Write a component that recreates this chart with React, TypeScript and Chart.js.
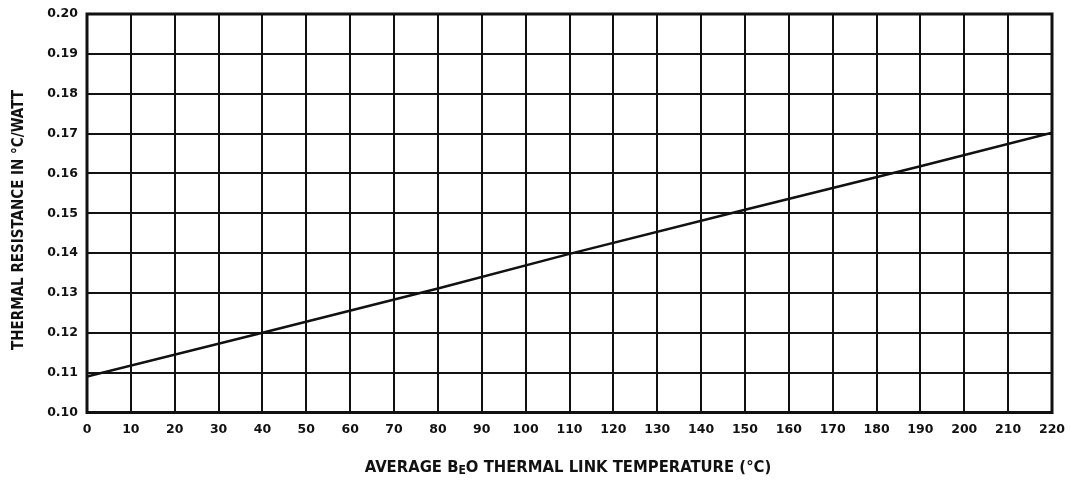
import React, { useEffect, useRef } from "react";
import { Chart, registerables } from "chart.js";

Chart.register(...registerables);

const temperatures = [0, 40, 80, 110, 150, 190, 220];
const resistance = [0.109, 0.1200, 0.1311, 0.1398, 0.1509, 0.1618, 0.1702];

const xTitleParts = ["AVERAGE B", "E", "O THERMAL LINK TEMPERATURE (°C)"];
const yTitle = "THERMAL RESISTANCE IN °C/WATT";

const tickFont = { family: "DejaVu Sans", size: 12.5, weight: "bold" as const };
const titleFamily = "'DejaVu Sans Condensed', 'DejaVu Sans'";

const framePlugin = {
  id: "frame",
  afterDraw(chart: any) {
    const { ctx, chartArea } = chart;
    ctx.save();
    ctx.strokeStyle = "#111";
    ctx.lineWidth = 3;
    ctx.strokeRect(chartArea.left, chartArea.top, chartArea.right - chartArea.left, chartArea.bottom - chartArea.top);

    // y title
    ctx.fillStyle = "#111";
    ctx.font = `bold 15px ${titleFamily}`;
    ctx.textAlign = "center";
    ctx.textBaseline = "middle";
    ctx.translate(19, 220);
    ctx.rotate(-Math.PI / 2);
    ctx.fillText(yTitle, 0, 0);
    ctx.restore();

    // x title with subscript E
    ctx.save();
    ctx.fillStyle = "#111";
    ctx.textBaseline = "alphabetic";
    ctx.textAlign = "left";
    const big = `bold 16.5px ${titleFamily}`;
    const small = `bold 12px ${titleFamily}`;
    ctx.font = big;
    const w0 = ctx.measureText(xTitleParts[0]).width;
    const w2 = ctx.measureText(xTitleParts[2]).width;
    ctx.font = small;
    const w1 = ctx.measureText(xTitleParts[1]).width;
    const total = w0 + w1 + w2;
    let x = 568 - total / 2;
    const y = 472;
    ctx.font = big;
    ctx.fillText(xTitleParts[0], x, y);
    x += w0;
    ctx.font = small;
    ctx.fillText(xTitleParts[1], x, y + 2);
    x += w1;
    ctx.font = big;
    ctx.fillText(xTitleParts[2], x, y);
    ctx.restore();
  },
};

export default function App() {
  const ref = useRef<HTMLCanvasElement>(null);
  useEffect(() => {
    document.body.style.margin = "0";
    const chart = new Chart(ref.current!, {
      type: "line",
      data: {
        datasets: [
          {
            data: temperatures.map((t, i) => ({ x: t, y: resistance[i] })),
            borderColor: "#111",
            borderWidth: 2.5,
            pointRadius: 0,
            tension: 0,
            fill: false,
          },
        ],
      },
      options: {
        animation: false,
        responsive: false,
        maintainAspectRatio: false,
        layout: { padding: { left: 0, right: 18, top: 14, bottom: 0 } },
        plugins: { legend: { display: false }, tooltip: { enabled: false } },
        scales: {
          x: {
            type: "linear",
            min: 0,
            max: 220,
            ticks: { stepSize: 10, color: "#111", font: tickFont, padding: 10, maxRotation: 0, autoSkip: false },
            grid: { color: "#111", lineWidth: 2, drawTicks: false },
            border: { display: false },
            afterFit(scale: any) {
              scale.height = 72.5;
              scale.paddingLeft = 0;
              scale.paddingRight = 0;
            },
          },
          y: {
            type: "linear",
            min: 0.1,
            max: 0.2,
            ticks: {
              stepSize: 0.01,
              color: "#111",
              font: tickFont,
              padding: 9,
              callback: (v: any) => Number(v).toFixed(2),
            },
            grid: { color: "#111", lineWidth: 2, drawTicks: false },
            border: { display: false },
            afterFit(scale: any) {
              scale.width = 87;
              scale.paddingTop = 0;
              scale.paddingBottom = 0;
            },
          },
        },
      },
      plugins: [framePlugin],
    });
    return () => chart.destroy();
  }, []);
  return <canvas ref={ref} width={1070} height={485} style={{ display: "block" }} />;
}
